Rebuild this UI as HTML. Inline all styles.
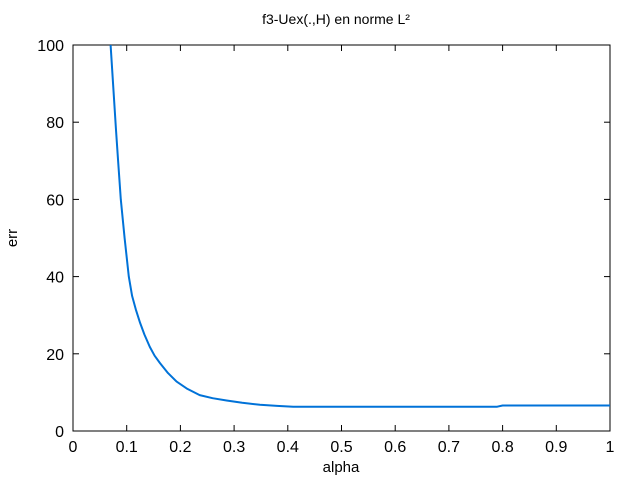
<!DOCTYPE html>
<html><head><meta charset="utf-8"><style>
body{margin:0;background:#fff}
svg{display:block;font-family:"Liberation Sans",sans-serif}
</style></head><body>
<svg width="640" height="480">
<text x="336" y="24" text-anchor="middle" font-size="14">f3-Uex(.,H) en norme L²</text>
<text x="341" y="472" text-anchor="middle" font-size="15">alpha</text>
<text x="17" y="238" text-anchor="middle" font-size="15" transform="rotate(-90 17 238)">err</text>
<g id="ticks"></g>
<rect x="73" y="45" width="537" height="386" fill="none" stroke="#000" stroke-width="1"/>
<path id="curve" fill="none" stroke="#0072d8" stroke-width="2" stroke-linejoin="round"/>
</svg>
<script>
const alphaVals=[0.070,0.075,0.080,0.084,0.089,0.096,0.104,0.110,0.117,0.125,0.133,0.143,0.152,0.162,0.177,0.193,0.213,0.236,0.260,0.286,0.315,0.348,0.380,0.410,0.500,0.600,0.700,0.790,0.800,0.900,1.000];
const errVals=[100,89,78,70,60,50,40,35,31.5,28,25,21.8,19.5,17.6,15,12.8,10.9,9.3,8.5,7.9,7.3,6.8,6.5,6.3,6.3,6.3,6.3,6.3,6.6,6.6,6.6];
const xTicks=[0,0.1,0.2,0.3,0.4,0.5,0.6,0.7,0.8,0.9,1];
const xTickLabels=["0","0.1","0.2","0.3","0.4","0.5","0.6","0.7","0.8","0.9","1"];
const yTicks=[0,20,40,60,80,100];
const yTickLabels=["0","20","40","60","80","100"];
const X0=73,X1=610,Y0=431,Y1=45;
const sx=v=>X0+(v-0)/(1-0)*(X1-X0);
const sy=v=>Y0-(v-0)/(100-0)*(Y0-Y1);
const NS="http://www.w3.org/2000/svg";
const g=document.getElementById('ticks');
function mk(t,a){const e=document.createElementNS(NS,t);for(const k in a)e.setAttribute(k,a[k]);g.appendChild(e);return e;}
xTicks.forEach((v,i)=>{
  const x=sx(v);
  const t1=mk('line',{x1:x,x2:x,y1:Y0,y2:Y0-6,stroke:'#000'});
  
  
  const t2=mk('line',{x1:x,x2:x,y1:Y1,y2:Y1+6,stroke:'#000'});
  
  
  const l=mk('text',{x:x,y:Y0+21,'text-anchor':'middle','font-size':16});
  l.textContent=xTickLabels[i];
  
  
});
yTicks.forEach((v,i)=>{
  const y=sy(v);
  const t1=mk('line',{x1:X0,x2:X0+6,y1:y,y2:y,stroke:'#000'});
  
  
  const t2=mk('line',{x1:X1,x2:X1-6,y1:y,y2:y,stroke:'#000'});
  
  
  const l=mk('text',{x:X0-9,y:y+6,'text-anchor':'end','font-size':16});
  l.textContent=yTickLabels[i];
  
  
});
document.getElementById('curve').setAttribute('d',alphaVals.map((a,i)=>(i?'L':'M')+sx(a).toFixed(1)+','+sy(errVals[i]).toFixed(1)).join(''));
</script>
</body></html>
